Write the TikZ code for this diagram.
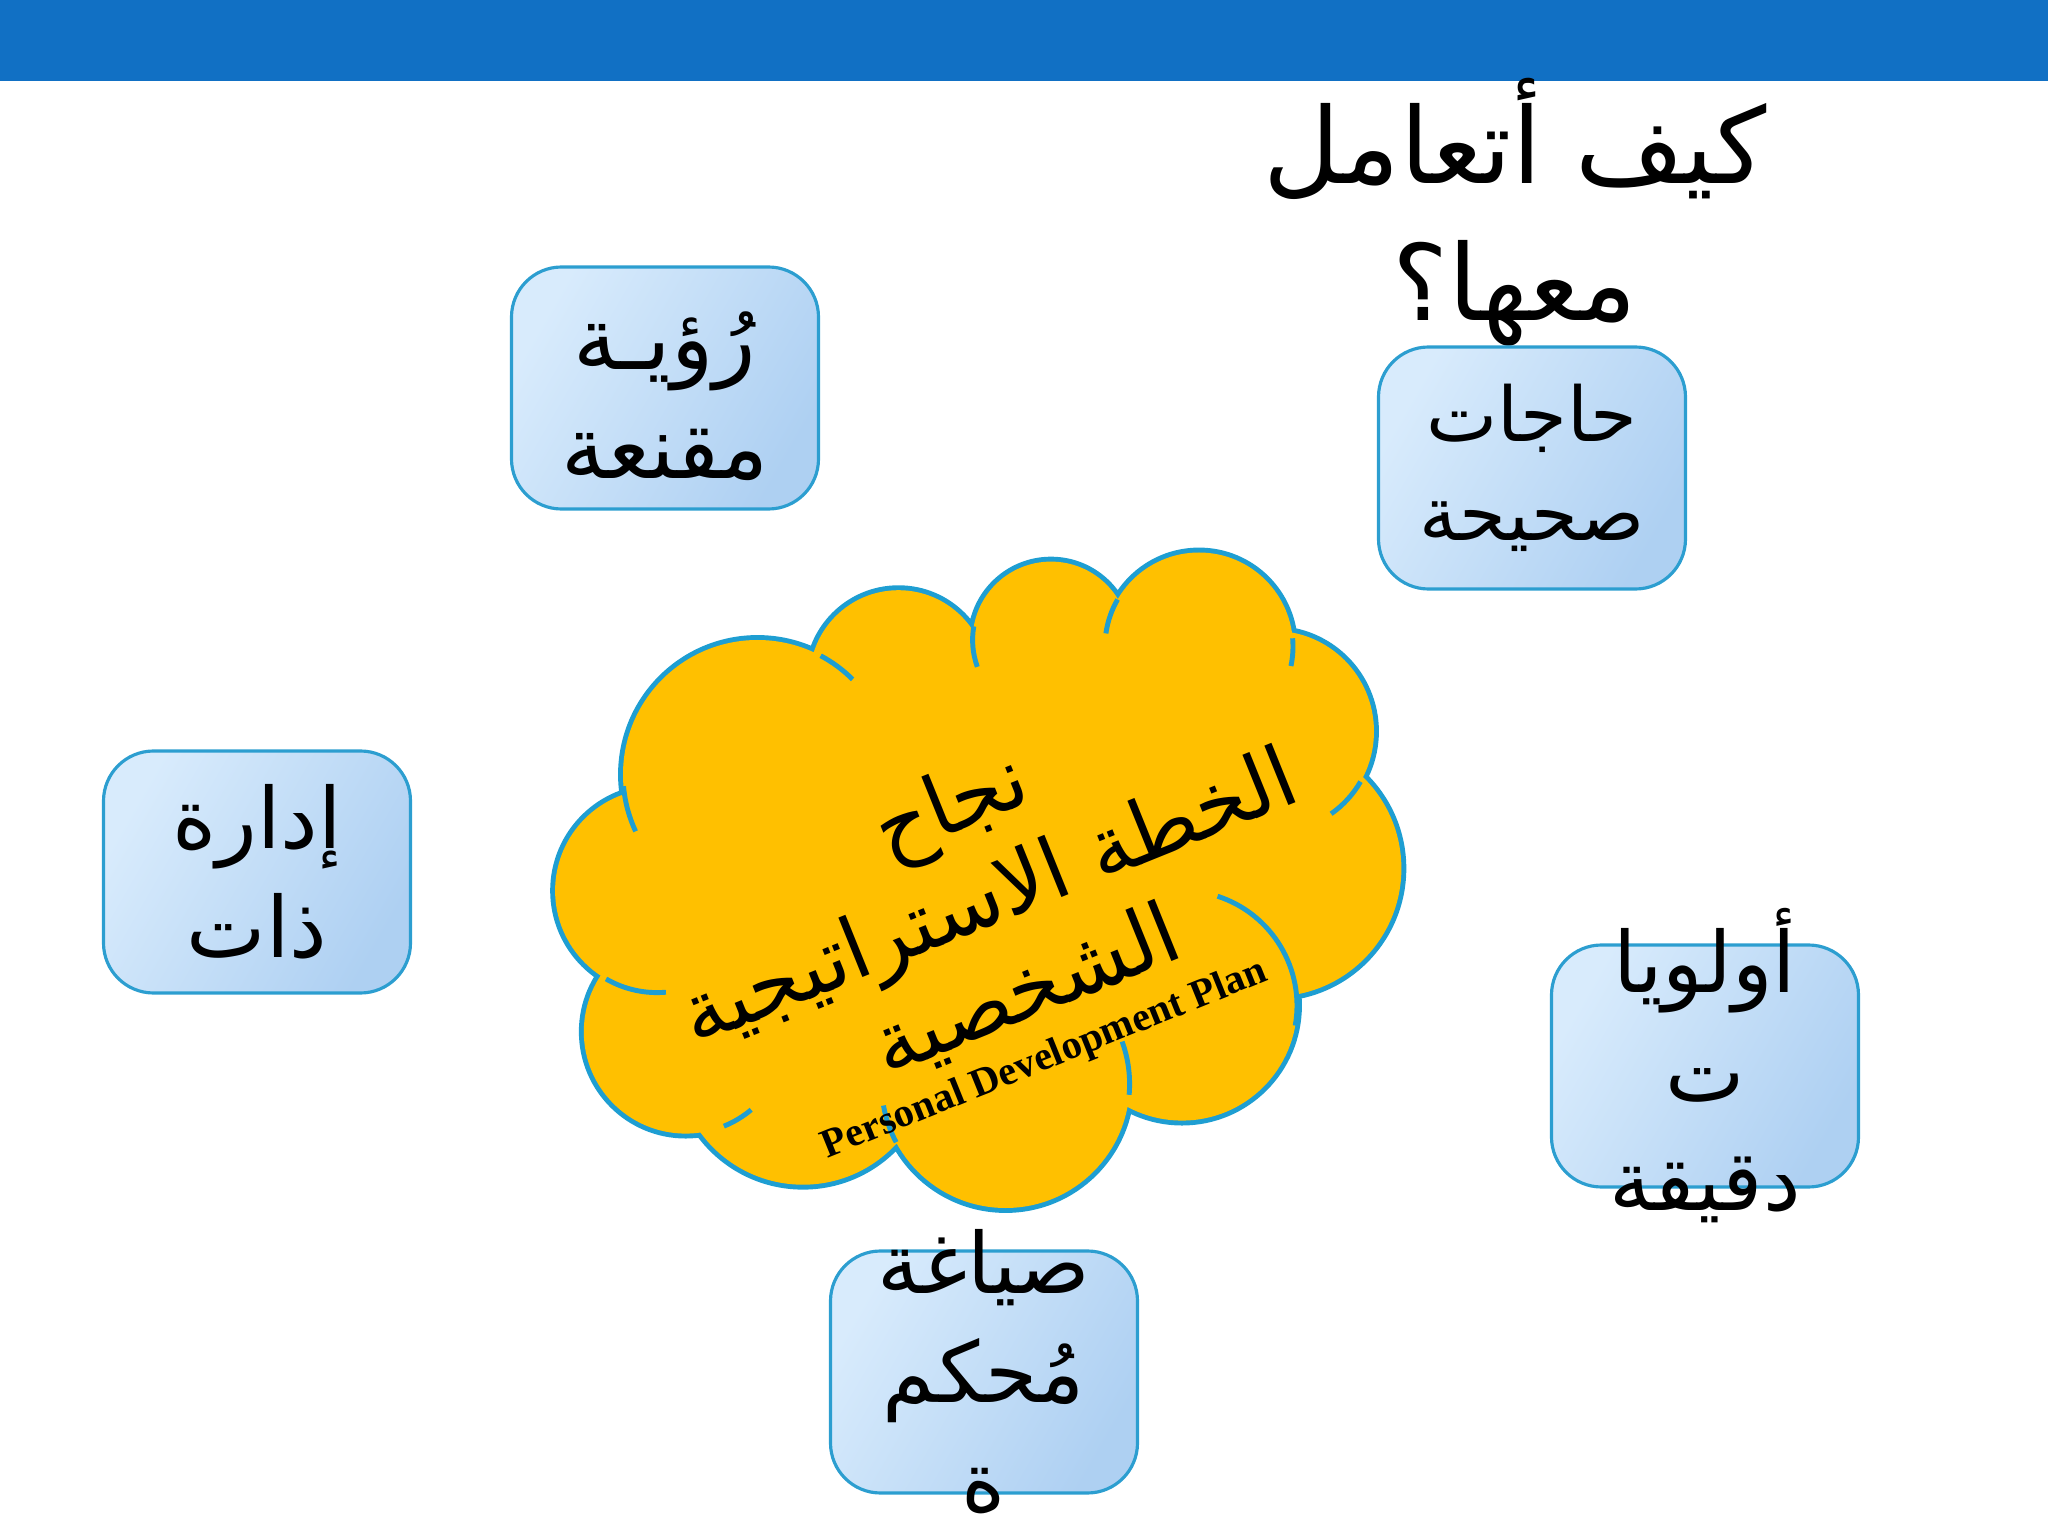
\documentclass[tikz,border=0pt]{standalone}
\usepackage{fontspec}
\setmainfont{DejaVu Sans}
\newfontfamily\arabicfont[Script=Arabic]{DejaVu Sans}
\newfontfamily\planfont{Liberation Serif}
\TeXXeTstate=1
\definecolor{barblue}{RGB}{17,112,196}
\definecolor{boxlight}{RGB}{216,235,252}
\definecolor{boxdark}{RGB}{174,208,242}
\definecolor{boxedge}{RGB}{44,158,208}
\definecolor{cloudfill}{RGB}{255,192,0}
\definecolor{cloudedge}{RGB}{30,158,210}
\def\CloudBumps{(7.575,-7.745) circle (1.345) (8.985,-6.79) circle (0.888)
(10.51,-6.40) circle (0.784) (11.99,-6.465) circle (0.94)
(12.734,-7.314) circle (1.006) (12.734,-8.685) circle (1.28)
(11.82,-10.056) circle (1.15) (10.056,-10.84) circle (1.24)
(8.03,-10.58) circle (1.267) (6.857,-10.317) circle (1.019)
(6.57,-8.907) circle (1.019)}

\begin{document}
\begin{tikzpicture}
[goalbox/.style={rectangle,rounded corners=0.5cm,draw=boxedge,line
width=0.9pt,top color=boxlight,bottom color=boxdark,shading angle=60,
minimum width=3.07cm,minimum height=2.42cm,inner sep=0pt},
goaltext/.style={align=center,inner sep=0pt,
font=\arabicfont\fontsize{24}{31}\selectfont},
titletext/.style={align=center,inner sep=0pt,
font=\arabicfont\fontsize{30}{39}\selectfont},
cloudline/.style={draw=cloudedge,line width=2.8pt},
cloudstub/.style={draw=cloudedge,line width=1.4pt},
cloudtext/.style={align=center,inner sep=0pt,rotate=22,
font=\arabicfont\fontsize{24}{28.5}\selectfont},
plantext/.style={inner sep=0pt,rotate=22,
font=\planfont\bfseries\fontsize{11.5}{14}\selectfont}
]
\useasboundingbox (0,0) rectangle (20.48,-15.36);
\fill[barblue] (0,0) rectangle (20.48,-0.81);
% title
\node [titletext] (title) at (15.15,-2.12)
{\beginR كيف أتعامل\endR\\\beginR معها؟\endR};
% cloud
\draw [cloudline] \CloudBumps;
\fill [cloudfill] \CloudBumps (9.8,-8.75) ellipse [x radius=3.0,y radius=2.35];
\draw [cloudstub] (7.575,-7.745) ++(185:1.345) arc[start angle=185,end angle=205,radius=1.345];
\draw [cloudstub] (7.575,-7.745) ++(45:1.345) arc[start angle=45,end angle=62,radius=1.345];
\draw [cloudstub] (6.57,-8.907) ++(240:1.019) arc[start angle=240,end angle=275,radius=1.019];
\draw [cloudstub] (6.857,-10.317) ++(292:1.019) arc[start angle=292,end angle=310,radius=1.019];
\draw [cloudstub] (10.51,-6.40) ++(170:0.784) arc[start angle=170,end angle=200,radius=0.784];
\draw [cloudstub] (11.99,-6.465) ++(150:0.94) arc[start angle=150,end angle=172,radius=0.94];
\draw [cloudstub] (11.99,-6.465) ++(5:0.94) arc[start angle=5,end angle=-12,radius=0.94];
\draw [cloudstub] (12.734,-7.314) ++(-30:1.006) arc[start angle=-30,end angle=-55,radius=1.006];
\draw [cloudstub] (11.82,-10.056) ++(72:1.15) arc[start angle=72,end angle=-10,radius=1.15];
\draw [cloudstub] (10.056,-10.84) ++(20:1.24) arc[start angle=20,end angle=-5,radius=1.24];
\draw [cloudstub] (10.056,-10.84) ++(190:1.24) arc[start angle=190,end angle=208,radius=1.24];
\node [cloudtext] (plan) at (9.89,-8.99)
{\beginR نجاح\endR\\\beginR الخطة الاستراتيجية\endR\\\beginR الشخصية\endR};
\node [plantext] (planen) at (10.45,-10.60) {Personal Development Plan};
% goal boxes
\node [goalbox] (vision) at (6.65,-3.88) {};
\node [goaltext,font=\arabicfont\fontsize{25}{31}\selectfont] (visiontext)
at ([yshift=-0.08cm]vision.center) {\beginR رُؤيـة\endR\\\beginR مقنعة\endR};
\node [goalbox] (needs) at (15.32,-4.68) {};
\node [goaltext,font=\arabicfont\fontsize{21.5}{28}\selectfont] (needstext)
at (needs.center) {\beginR حاجات\endR\\\beginR صحيحة\endR};
\node [goalbox] (self) at (2.57,-8.72) {};
\node [goaltext] (selftext) at (self.center)
{\beginR إدارة\endR\\\beginR ذات\endR};
\node [goalbox] (priorities) at (17.05,-10.66) {};
\node [goaltext] (prioritiestext) at (priorities.center)
{\beginR أولويا\endR\\\beginR ت\endR\\\beginR دقيقة\endR};
\node [goalbox] (wording) at (9.84,-13.72) {};
\node [goaltext] (wordingtext) at (wording.center)
{\beginR صياغة\endR\\\beginR مُحكم\endR\\\beginR ة\endR};
\end{tikzpicture}
\end{document}
